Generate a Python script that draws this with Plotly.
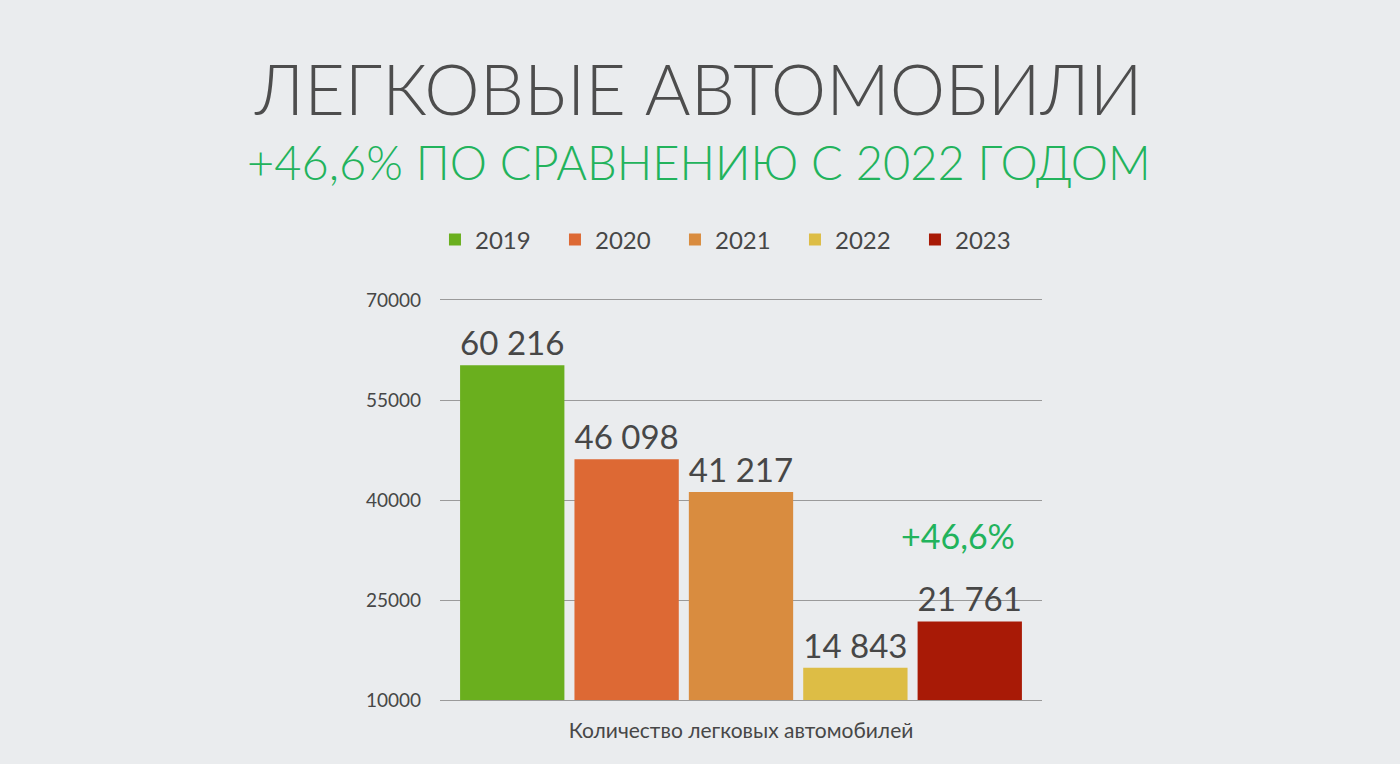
import plotly.graph_objects as go

# данные
years = ["2019", "2020", "2021", "2022", "2023"]
values = [60216, 46098, 41217, 14843, 21761]
colors = ["#6aaf1e", "#dd6934", "#d98c3f", "#ddbd45", "#a81a06"]
category = "Количество легковых автомобилей"
y_ticks = [10000, 25000, 40000, 55000, 70000]

title_text = "ЛЕГКОВЫЕ АВТОМОБИЛИ"
subtitle_text = "+46,6% ПО СРАВНЕНИЮ С 2022 ГОДОМ"
growth_text = "+46,6%"

FONT = "Lato, 'Open Sans', sans-serif"
GREEN = "#22b35c"
DARK = "#474747"
GRID = "#9a9a9a"

fig = go.Figure()

for year, val, col in zip(years, values, colors):
    fig.add_trace(
        go.Bar(
            x=[category],
            y=[val],
            name=year,
            marker=dict(color=col, line=dict(width=0)),
            text=[f"{val:,}".replace(",", " ")],
            textposition="outside",
            textfont=dict(size=37, color=DARK, family=FONT),
            cliponaxis=False,
        )
    )

# заголовки
fig.add_annotation(
    text=title_text, xref="paper", yref="paper", x=0.43, y=1.53,
    xanchor="center", yanchor="middle",
    showarrow=False, font=dict(size=70, color="#4d4d4d", family=FONT, weight=300),
)
fig.add_annotation(
    text=subtitle_text, xref="paper", yref="paper", x=0.43, y=1.345,
    xanchor="center", yanchor="middle",
    showarrow=False, font=dict(size=47, color=GREEN, family=FONT, weight=300),
)
# прирост над 2023
fig.add_annotation(
    text=growth_text, xref="paper", yref="y", x=0.86, y=34750,
    xanchor="center", yanchor="middle",
    showarrow=False, font=dict(size=34, color=GREEN, family=FONT),
)

fig.update_layout(
    width=1400,
    height=764,
    margin=dict(l=440, r=358, t=300, b=64),
    paper_bgcolor="#eaecee",
    plot_bgcolor="rgba(0,0,0,0)",
    barmode="group",
    bargap=0.05,
    bargroupgap=0.088,
    showlegend=True,
    legend=dict(
        orientation="h", x=0.49, xanchor="center", y=1.15, yanchor="middle",
        font=dict(size=24, color=DARK, family=FONT),
        entrywidth=75, entrywidthmode="pixels",
        itemsizing="constant", bgcolor="rgba(0,0,0,0)",
    ),
)

fig.update_yaxes(
    range=[10000, 70000],
    tickvals=y_ticks,
    ticktext=[str(v) for v in y_ticks],
    showgrid=True, gridcolor=GRID, gridwidth=1,
    zeroline=False, showline=False,
    tickfont=dict(size=19, color=DARK, family=FONT),
    ticklabelstandoff=18,
)
# линии сетки на краях (10000 и 70000) рисуем линией оси x
fig.update_xaxes(
    showgrid=False, showline=True, linecolor=GRID, linewidth=1, mirror=True,
    tickfont=dict(size=21, color=DARK, family=FONT),
    ticklabelstandoff=12,
)

fig.write_html(
    "out.html",
    config={"displayModeBar": False},
    post_script="document.body.style.margin='0';",
)
